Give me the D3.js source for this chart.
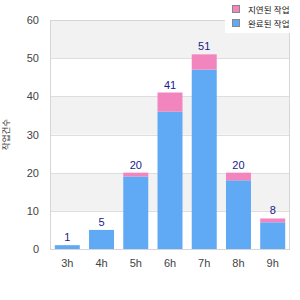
<!DOCTYPE html>
<html>
<head>
<meta charset="utf-8">
<script src="https://cdn.jsdelivr.net/npm/d3@7"></script>
<style>
  body { margin: 0; background: #fff; }
  text { font-family: "Liberation Sans", Arial, "Noto Sans CJK KR", sans-serif; }
</style>
</head>
<body>
<svg id="chart" width="300" height="300"></svg>
<script>
// chart data
const hours = ["3h", "4h", "5h", "6h", "7h", "8h", "9h"];
const doneCounts = [1, 5, 19, 36, 47, 18, 7];
const lateCounts = [0, 0, 1, 5, 4, 2, 1];
const yTicks = [0, 10, 20, 30, 40, 50, 60];
const seriesNames = ["지연된 작업", "완료된 작업"];
const yTitle = "작업건수";

const margin = { top: 20, right: 10, bottom: 51, left: 50 };
const width = 300, height = 300;

const svg = d3.select("#chart");

const x = d3.scaleBand()
    .domain(hours)
    .range([margin.left, width - margin.right])
    .paddingInner(0.27)
    .paddingOuter(0.14);

const y = d3.scaleLinear()
    .domain([0, 60])
    .range([height - margin.bottom, margin.top]);

// alternating background bands
const bands = d3.range(0, yTicks.length - 1);
svg.append("g").selectAll("rect")
    .data(bands)
    .join("rect")
    .attr("x", margin.left)
    .attr("width", width - margin.right - margin.left)
    .attr("y", i => y(yTicks[i + 1]))
    .attr("height", i => y(yTicks[i]) - y(yTicks[i + 1]))
    .attr("fill", i => i % 2 === 1 ? "#f2f2f2" : "#fff");

// gridlines
svg.append("g").selectAll("line")
    .data(yTicks)
    .join("line")
    .attr("x1", margin.left)
    .attr("x2", width - margin.right)
    .attr("y1", d => Math.round(y(d)) + 0.5)
    .attr("y2", d => Math.round(y(d)) + 0.5)
    .attr("stroke", "#dedede");

// plot frame
svg.append("rect")
    .attr("x", margin.left + 0.5)
    .attr("y", margin.top + 0.5)
    .attr("width", width - margin.right - margin.left - 1)
    .attr("height", height - margin.bottom - margin.top)
    .attr("fill", "none")
    .attr("stroke", "#d6d6d6");

// stacked bars
const stackData = hours.map((h, i) => ({ hour: h, done: doneCounts[i], late: lateCounts[i] }));
const stack = d3.stack().keys(["done", "late"])(stackData);
const colors = { done: "#60a9f5", late: "#f285bd" };

svg.append("g").selectAll("g")
    .data(stack)
    .join("g")
    .attr("fill", s => colors[s.key])
    .selectAll("rect")
    .data(s => s)
    .join("rect")
    .attr("x", d => x(d.data.hour))
    .attr("width", x.bandwidth())
    .attr("y", d => y(d[1]))
    .attr("height", d => y(d[0]) - y(d[1]));

// total labels
svg.append("g").selectAll("text")
    .data(stackData)
    .join("text")
    .attr("x", d => x(d.hour) + x.bandwidth() / 2)
    .attr("y", d => y(d.done + d.late) - 4)
    .attr("text-anchor", "middle")
    .attr("font-size", 11)
    .attr("fill", "#1a1a8a")
    .text(d => d.done + d.late);

// y axis
const yAxis = d3.axisLeft(y).tickValues(yTicks).tickSize(0).tickPadding(11);
svg.append("g")
    .attr("transform", `translate(${margin.left},0)`)
    .call(yAxis)
    .call(g => g.select(".domain").remove())
    .selectAll("text")
    .attr("font-size", 11)
    .attr("fill", "#444");

// x axis
const xAxis = d3.axisBottom(x).tickSize(0).tickPadding(10);
svg.append("g")
    .attr("transform", `translate(0,${height - margin.bottom})`)
    .call(xAxis)
    .call(g => g.select(".domain").remove())
    .selectAll("text")
    .attr("font-size", 11)
    .attr("fill", "#444");

// y title
svg.append("text")
    .attr("transform", `translate(7,${(margin.top + height - margin.bottom) / 2}) rotate(-90)`)
    .attr("text-anchor", "middle")
    .attr("dominant-baseline", "middle")
    .attr("font-size", 8.5)
    .attr("fill", "#333")
    .text(yTitle);

// legend
const legend = svg.append("g").attr("transform", "translate(225,0)");
legend.append("rect")
    .attr("width", 75).attr("height", 33)
    .attr("fill", "#fff");
const legendColors = [colors.late, colors.done];
const items = legend.selectAll("g")
    .data(seriesNames)
    .join("g")
    .attr("transform", (d, i) => `translate(0,${i * 14})`);
items.append("rect")
    .attr("x", 7.5).attr("y", 5.5)
    .attr("width", 7).attr("height", 7)
    .attr("fill", (d, i) => legendColors[i])
    .attr("stroke", "#888");
items.append("text")
    .attr("x", 23).attr("y", 12.5)
    .attr("font-size", 8.5)
    .attr("fill", "#111")
    .text(d => d);
</script>
</body>
</html>
